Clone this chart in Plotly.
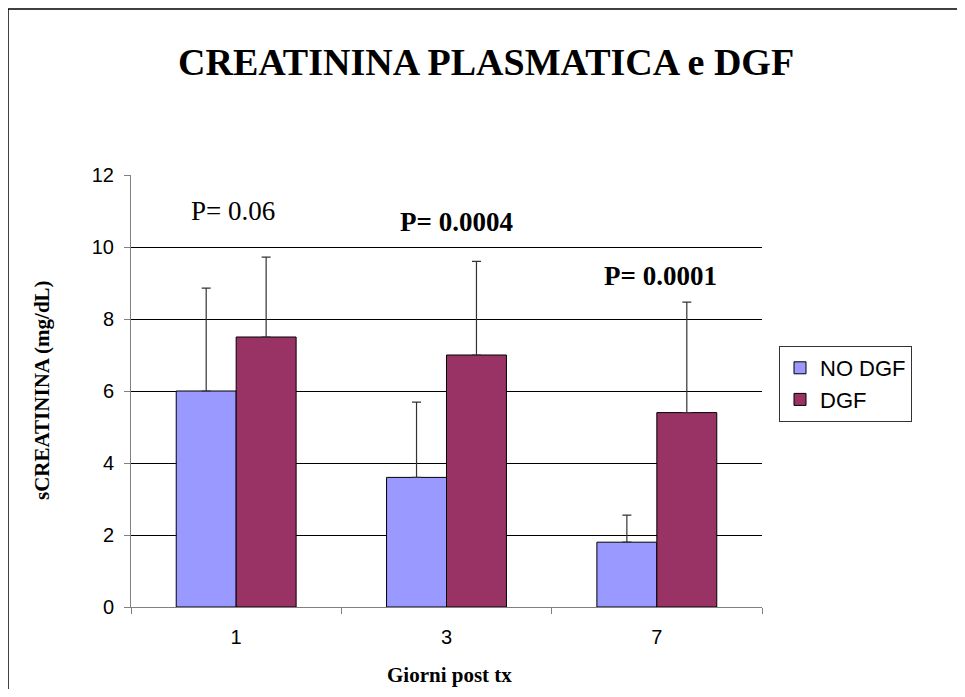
import plotly.graph_objects as go

days = ["1", "3", "7"]
no_dgf = [6.0, 3.6, 1.8]
no_dgf_err = [2.86, 2.09, 0.75]
dgf = [7.5, 7.0, 5.4]
dgf_err = [2.22, 2.6, 3.07]
p_labels = ["P= 0.06", "<b>P= 0.0004</b>", "<b>P= 0.0001</b>"]
p_y = [11.0, 10.7, 9.2]

# page body adds an 8px margin; keep the figure inside the viewport
OFF = 8
W, H = 965 - 2 * OFF, 697 - 2 * OFF
L, T = 131 - OFF, 175 - OFF
pw, ph = 631, 432
R = W - L - pw
B = H - T - ph


def px_x(x):
    return (x - OFF - L) / pw


def px_y(y):
    return (T + ph - (y - OFF)) / ph


fig = go.Figure()
fig.add_trace(go.Bar(
    x=days, y=no_dgf, name="NO DGF",
    marker=dict(color="#9999FF", line=dict(color="black", width=1)),
    error_y=dict(type="data", symmetric=False, array=no_dgf_err,
                 arrayminus=[0, 0, 0], color="#333333", thickness=1.2, width=4.5),
))
fig.add_trace(go.Bar(
    x=days, y=dgf, name="DGF",
    marker=dict(color="#993366", line=dict(color="black", width=1)),
    error_y=dict(type="data", symmetric=False, array=dgf_err,
                 arrayminus=[0, 0, 0], color="#333333", thickness=1.2, width=4.5),
))

annotations = []
p_x_px = [233, 456, 660]
for xp, lab, yv in zip(p_x_px, p_labels, p_y):
    annotations.append(dict(
        x=px_x(xp), xref="paper", y=yv, yref="y", text=lab, showarrow=False,
        font=dict(family="Liberation Serif", size=27, color="black"),
        xanchor="center", yanchor="middle",
    ))
annotations.append(dict(
    x=px_x(42), xref="paper", y=px_y(390), yref="paper",
    text="<b>sCREATININA (mg/dL)</b>", textangle=-90, showarrow=False,
    font=dict(family="Liberation Serif", size=21, color="black"),
    xanchor="center", yanchor="middle",
))
annotations.append(dict(
    x=px_x(449), xref="paper", y=px_y(675), yref="paper",
    text="<b>Giorni post tx</b>", showarrow=False,
    font=dict(family="Liberation Serif", size=21, color="black"),
    xanchor="center", yanchor="middle",
))
annotations.append(dict(
    x=px_x(486), xref="paper", y=px_y(62), yref="paper",
    text="<b>CREATININA PLASMATICA e DGF</b>", showarrow=False,
    font=dict(family="Liberation Serif", size=38, color="black"),
    xanchor="center", yanchor="middle",
))

frame_line = dict(color="black", width=1.5)
shapes = [
    dict(type="line", xref="paper", yref="paper",
         x0=px_x(8), x1=px_x(8), y0=px_y(9), y1=px_y(697), line=frame_line),
    dict(type="line", xref="paper", yref="paper",
         x0=px_x(8), x1=px_x(965), y0=px_y(9), y1=px_y(9), line=frame_line),
]

fig.update_layout(
    width=W, height=H,
    margin=dict(l=L, r=R, t=T, b=B, autoexpand=False),
    paper_bgcolor="white", plot_bgcolor="white",
    barmode="group", bargap=0.43, bargroupgap=0,
    showlegend=True,
    legend=dict(
        x=px_x(779), y=px_y(346), xanchor="left", yanchor="top",
        bordercolor="#333333", borderwidth=1,
        font=dict(family="Liberation Sans", size=22, color="black"),
        itemwidth=30, tracegroupgap=0,
    ),
    annotations=annotations,
    shapes=shapes,
    font=dict(family="Liberation Sans", size=20, color="black"),
)

fig.update_xaxes(
    type="category", showline=True, linecolor="#808080", linewidth=1,
    ticks="outside", tickson="boundaries", ticklen=6, tickcolor="#808080",
    showgrid=False, ticklabelstandoff=12,
    tickfont=dict(family="Liberation Sans", size=20, color="black"),
)
fig.update_yaxes(
    range=[0, 12], dtick=2, tick0=0, showline=True, linecolor="#808080",
    linewidth=1, ticks="outside", ticklen=6, tickcolor="#808080",
    showgrid=True, gridcolor="black", gridwidth=1, zeroline=False,
    ticklabelstandoff=6,
    tickfont=dict(family="Liberation Sans", size=20, color="black"),
)

fig.write_html("out.html")
